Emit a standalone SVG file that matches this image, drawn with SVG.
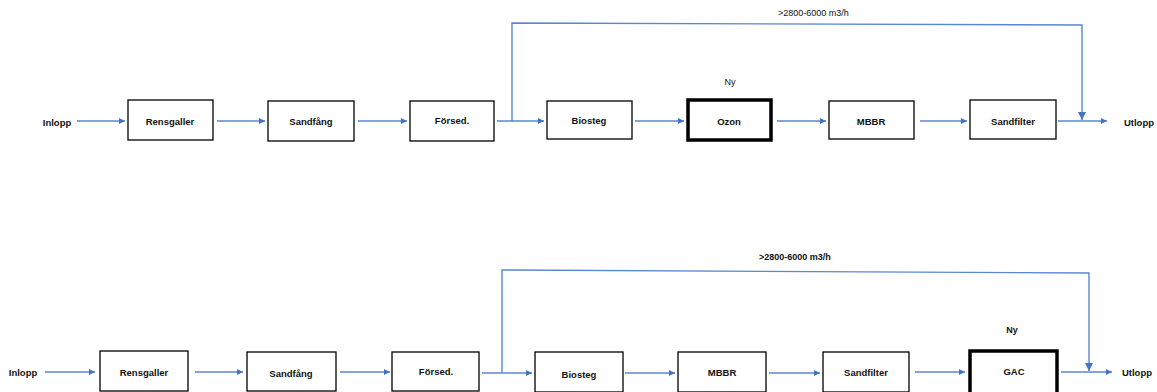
<svg xmlns="http://www.w3.org/2000/svg" width="1157" height="392" viewBox="0 0 1157 392">
<style>
.box{fill:#fff;stroke:#000;stroke-width:1.3}
.new{fill:#fff;stroke:#000;stroke-width:3.5}
.t{font-family:"Liberation Sans",Arial,sans-serif;font-size:9.5px;font-weight:bold;fill:#111;text-anchor:middle;dominant-baseline:central}
.l{font-family:"Liberation Sans",Arial,sans-serif;font-size:9px;fill:#111;dominant-baseline:central}
.c{fill:none;stroke:#5B86D0;stroke-width:1.4}
</style>
<defs>
<marker id="ah" viewBox="0 0 10 10" refX="10" refY="5" markerWidth="7" markerHeight="6" markerUnits="userSpaceOnUse" orient="auto"><path d="M0,0L10,5L0,10z" fill="#4472C4"/></marker>
<marker id="ahd" viewBox="0 0 10 10" refX="10" refY="5" markerWidth="9" markerHeight="8" markerUnits="userSpaceOnUse" orient="auto"><path d="M0,0L10,5L0,10z" fill="#4472C4"/></marker>
</defs>
<g id="connectors">
<line class="c" x1="77" y1="121" x2="125" y2="121" marker-end="url(#ah)"/>
<line class="c" x1="217" y1="121" x2="265" y2="121" marker-end="url(#ah)"/>
<line class="c" x1="358" y1="121" x2="407" y2="121" marker-end="url(#ah)"/>
<line class="c" x1="497" y1="121" x2="544" y2="121" marker-end="url(#ah)"/>
<line class="c" x1="635" y1="121" x2="684" y2="121" marker-end="url(#ah)"/>
<line class="c" x1="777" y1="121" x2="826" y2="121" marker-end="url(#ah)"/>
<line class="c" x1="920" y1="121" x2="967" y2="121" marker-end="url(#ah)"/>
<line class="c" x1="1058" y1="121" x2="1107" y2="121" marker-end="url(#ah)"/>
<polyline class="c" points="512,121 512,23 1082,25 1082,120" marker-end="url(#ahd)"/>
<line class="c" x1="45" y1="372" x2="95" y2="372" marker-end="url(#ah)"/>
<line class="c" x1="195" y1="372" x2="243" y2="372" marker-end="url(#ah)"/>
<line class="c" x1="340" y1="372" x2="390" y2="372" marker-end="url(#ah)"/>
<line class="c" x1="482" y1="373" x2="532" y2="373" marker-end="url(#ah)"/>
<line class="c" x1="625" y1="373" x2="675" y2="373" marker-end="url(#ah)"/>
<line class="c" x1="769" y1="373" x2="820" y2="373" marker-end="url(#ah)"/>
<line class="c" x1="915" y1="372" x2="965" y2="372" marker-end="url(#ah)"/>
<line class="c" x1="1061" y1="372" x2="1112" y2="372" marker-end="url(#ah)"/>
<polyline class="c" points="502,373 502,270 1089,273 1089,371" marker-end="url(#ahd)"/>
</g>
<g id="labels">
<text class="l" x="778" y="13">&gt;2800-6000 m3/h</text>
<text class="l" x="759" y="257" font-weight="bold">&gt;2800-6000 m3/h</text>
<text class="l" x="730" y="82" text-anchor="middle">Ny</text>
<text class="l" x="1012" y="330" text-anchor="middle" font-weight="bold">Ny</text>
</g>
<g id="inlopp1"><text class="t" x="57" y="122">Inlopp</text></g>
<g id="rensgaller1"><rect class="box" x="128" y="100" width="85" height="40"/><text class="t" x="170" y="121">Rensgaller</text></g>
<g id="sandfang1"><rect class="box" x="268" y="101" width="86" height="40"/><text class="t" x="311" y="121">Sandfång</text></g>
<g id="forsed1"><rect class="box" x="410" y="101" width="84" height="40"/><text class="t" x="452" y="120">Försed.</text></g>
<g id="biosteg1"><rect class="box" x="547" y="101" width="85" height="38"/><text class="t" x="589" y="120">Biosteg</text></g>
<g id="ozon1"><rect class="new" x="688" y="100" width="83" height="40"/><text class="t" x="729" y="121">Ozon</text></g>
<g id="mbbr1"><rect class="box" x="829" y="101" width="85" height="38"/><text class="t" x="871" y="121">MBBR</text></g>
<g id="sandfilter1"><rect class="box" x="970" y="100" width="86" height="39"/><text class="t" x="1013" y="121">Sandfilter</text></g>
<g id="utlopp1"><text class="t" x="1139" y="122">Utlopp</text></g>
<g id="inlopp2"><text class="t" x="23" y="372">Inlopp</text></g>
<g id="rensgaller2"><rect class="box" x="100" y="351" width="88" height="40"/><text class="t" x="144" y="372">Rensgaller</text></g>
<g id="sandfang2"><rect class="box" x="247" y="352" width="89" height="39"/><text class="t" x="291" y="373">Sandfång</text></g>
<g id="forsed2"><rect class="box" x="392" y="352" width="87" height="39"/><text class="t" x="436" y="371">Försed.</text></g>
<g id="biosteg2"><rect class="box" x="535" y="352" width="88" height="40"/><text class="t" x="579" y="374">Biosteg</text></g>
<g id="mbbr2"><rect class="box" x="678" y="352" width="88" height="40"/><text class="t" x="722" y="372">MBBR</text></g>
<g id="sandfilter2"><rect class="box" x="823" y="352" width="86" height="40"/><text class="t" x="866" y="372">Sandfilter</text></g>
<g id="gac2"><rect class="new" x="970" y="351" width="87" height="44"/><text class="t" x="1014" y="371">GAC</text></g>
<g id="utlopp2"><text class="t" x="1137" y="372">Utlopp</text></g>
</svg>
